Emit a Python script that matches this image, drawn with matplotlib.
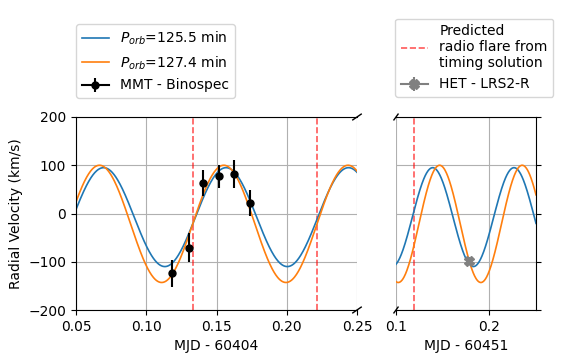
import numpy as np
import matplotlib
matplotlib.use("Agg")
import matplotlib.pyplot as plt

# ---- data ----
# sine model parameters
period_min = [125.5, 127.4]          # orbital periods (min)
K_amp = [102.5, 121.5]               # semi-amplitudes (km/s)
gamma = [-7.5, -21.5]                # systemic offsets (km/s)
tpeak_left = [0.1568, 0.1552]        # time of max RV, MJD-60404
tpeak_right = [0.1393, 0.1467]       # time of max RV, MJD-60451
curve_colors = ["#1f77b4", "#ff7f0e"]

# MMT - Binospec (MJD - 60404)
mmt_t = [0.1185, 0.1302, 0.1406, 0.1520, 0.1627, 0.1738]
mmt_v = [-124, -71, 64, 77, 82, 22]
mmt_err = [28, 30, 27, 24, 29, 27]

# HET - LRS2-R (MJD - 60451)
het_t = [0.1778]
het_v = [-98]
het_err = [8]

# predicted radio flares
flare_left = [0.1333, 0.2215]
flare_right = [0.1190]

left_xlim = (0.05, 0.25)
right_xlim = (0.10, 0.25)
right_xticks = [0.1, 0.2]
ylim = (-200, 200)

# ---- figure ----
fig = plt.figure(figsize=(5.76, 3.6), dpi=100)
ax1 = fig.add_axes([76/576, 1-310/360, (357-76)/576, (310-117)/360])
ax2 = fig.add_axes([396/576, 1-310/360, (536-396)/576, (310-117)/360])

def model(t, i, tp):
    P = period_min[i] / 1440.0
    return gamma[i] + K_amp[i] * np.cos(2*np.pi*(t - tp)/P)

tl = np.linspace(*left_xlim, 600)
tr = np.linspace(*right_xlim, 400)
line_handles = []
for i in range(2):
    h, = ax1.plot(tl, model(tl, i, tpeak_left[i]), color=curve_colors[i], lw=1.2,
                  label=r"$P_{orb}$=%.1f min" % period_min[i])
    line_handles.append(h)
    ax2.plot(tr, model(tr, i, tpeak_right[i]), color=curve_colors[i], lw=1.2)

for x in flare_left:
    fl = ax1.axvline(x, color="red", ls="--", alpha=0.65, lw=1.2, zorder=1.5)
for x in flare_right:
    fl = ax2.axvline(x, color="red", ls="--", alpha=0.65, lw=1.2, zorder=1.5)

ax1.errorbar(mmt_t, mmt_v, yerr=mmt_err, fmt="o", color="black", ms=5,
             elinewidth=1.5, capsize=0, zorder=5)
ax2.errorbar(het_t, het_v, yerr=het_err, fmt="X", color="gray", ms=7,
             elinewidth=1.5, capsize=0, zorder=5)

# legend proxies (errorbar with line, no visible data)
mmt_h = ax1.errorbar([np.nan], [np.nan], yerr=[np.nan], fmt="-o", color="black",
                     ms=5, elinewidth=1.5, capsize=0)
het_h = ax2.errorbar([np.nan], [np.nan], yerr=[np.nan], fmt="-X", color="gray",
                     ms=7, elinewidth=1.5, capsize=0)

for ax in (ax1, ax2):
    ax.set_ylim(*ylim)
    ax.grid(True, color="#b0b0b0", lw=0.8)
    ax.set_axisbelow(True)

ax1.set_xlim(*left_xlim)
ax2.set_xlim(*right_xlim)
ax2.set_xticks(right_xticks)
ax1.set_yticks([-200, -100, 0, 100, 200])
ax2.set_yticks([-200, -100, 0, 100, 200])

ax1.spines["right"].set_visible(False)
ax2.spines["left"].set_visible(False)
ax1.tick_params(right=False)
ax2.yaxis.tick_right()
ax2.tick_params(labelright=False, left=False)

ax1.set_ylabel("Radial Velocity (km/s)")
ax1.set_xlabel("MJD - 60404")
ax2.set_xlabel("MJD - 60451")

# break marks
d = 0.015
kw = dict(transform=ax1.transAxes, color="k", clip_on=False, lw=1)
ax1.plot((1-d, 1+d), (-d, +d), **kw)
ax1.plot((1-d, 1+d), (1-d, 1+d), **kw)
kw.update(transform=ax2.transAxes)
ax2.plot((-d, +d), (-d, +d), **kw)
ax2.plot((-d, +d), (1-d, 1+d), **kw)

fig.legend(line_handles + [mmt_h],
           [h.get_label() for h in line_handles] + ["MMT - Binospec"],
           loc="lower left", bbox_to_anchor=(76/576, 1-98/360), borderaxespad=0)
fig.legend([fl, het_h], ["Predicted\nradio flare from\ntiming solution", "HET - LRS2-R"],
           loc="lower left", bbox_to_anchor=(395/576, 1-97/360), borderaxespad=0)

fig.savefig("out.png", dpi=100)
